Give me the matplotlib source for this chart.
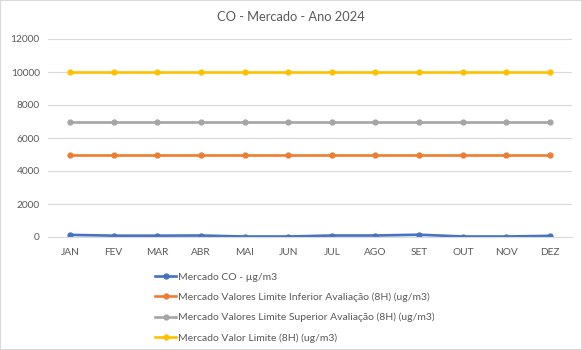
import matplotlib
matplotlib.use("Agg")
import matplotlib.pyplot as plt
from matplotlib.patches import Rectangle

plt.rcParams['font.family'] = ['Lato', 'DejaVu Sans']

meses = ['JAN', 'FEV', 'MAR', 'ABR', 'MAI', 'JUN', 'JUL', 'AGO', 'SET', 'OUT', 'NOV', 'DEZ']
co_mercado = [130, 80, 80, 90, 30, 30, 90, 90, 140, 30, 30, 70]
limite_inferior = [5000] * 12
limite_superior = [7000] * 12
valor_limite = [10000] * 12

series = [
    ('Mercado CO - µg/m3', co_mercado, '#4472C4'),
    ('Mercado Valores Limite Inferior Avaliação (8H) (ug/m3)', limite_inferior, '#ED7D31'),
    ('Mercado Valores Limite Superior Avaliação (8H) (ug/m3)', limite_superior, '#A5A5A5'),
    ('Mercado Valor Limite (8H) (ug/m3)', valor_limite, '#FFC000'),
]

fig = plt.figure(figsize=(5.82, 3.5), dpi=100)
ax = fig.add_axes([48 / 582, 1 - 237 / 350, 524 / 582, 198 / 350])

x = list(range(len(meses)))
handles = []
for nome, valores, cor in series:
    h, = ax.plot(x, valores, color=cor, lw=1.9, marker='o', ms=3.5, label=nome)
    handles.append(h)

ax.set_xlim(-0.5, len(meses) - 0.5)
ax.set_ylim(0, 12000)
ax.set_yticks(range(0, 12001, 2000))
ax.set_xticks(x)
ax.set_xticklabels(meses)
ax.grid(axis='y', color='#D9D9D9', lw=0.8)
ax.set_axisbelow(True)
for s in ['top', 'right', 'left']:
    ax.spines[s].set_visible(False)
ax.spines['bottom'].set_color('#D9D9D9')
ax.tick_params(length=0, labelsize=7.3, labelcolor='#595959')
ax.tick_params(axis='x', pad=8)
ax.tick_params(axis='y', pad=6)

fig.text(0.5, 1 - 17 / 350, 'CO - Mercado - Ano 2024', ha='center', va='center',
         fontsize=9.3, color='#595959')

fig.legend(handles=handles, loc='upper left', bbox_to_anchor=(150 / 582, 1 - 267 / 350),
           frameon=False, fontsize=7.5, labelcolor='#595959', handlelength=2.0,
           handletextpad=0.2, labelspacing=1.05, borderpad=0)

fig.patches.append(Rectangle((0, 0), 1, 1, transform=fig.transFigure, fill=False,
                             edgecolor='#D9D9D9', lw=1.5))

fig.savefig('out.png', dpi=100)
